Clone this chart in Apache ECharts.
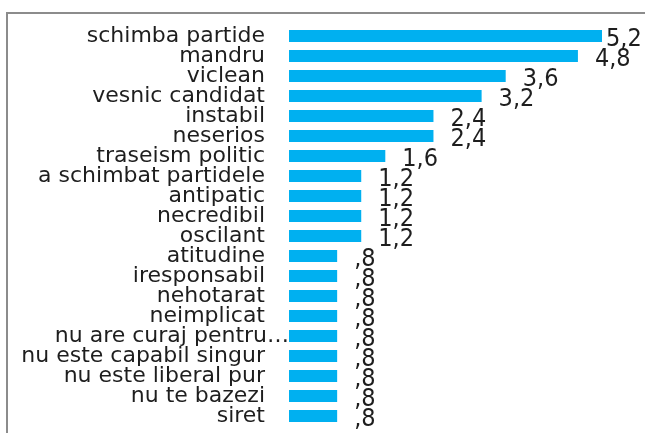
<!DOCTYPE html>
<html>
<head>
<meta charset="utf-8">
<script src="https://cdn.jsdelivr.net/npm/echarts@6/dist/echarts.min.js"></script>
<style>
html, body { margin: 0; padding: 0; background: #fff; }
#main { width: 645px; height: 433px; }
</style>
</head>
<body>
<div id="main"></div>
<script>
// categorii si procente
var categories = ['schimba partide', 'mandru', 'viclean', 'vesnic candidat', 'instabil', 'neserios',
    'traseism politic', 'a schimbat partidele', 'antipatic', 'necredibil', 'oscilant', 'atitudine',
    'iresponsabil', 'nehotarat', 'neimplicat', 'nu are curaj pentru\u2026', 'nu este capabil singur',
    'nu este liberal pur', 'nu te bazezi', 'siret'];
var values = [5.2, 4.8, 3.6, 3.2, 2.4, 2.4, 1.6, 1.2, 1.2, 1.2, 1.2, 0.8, 0.8, 0.8, 0.8, 0.8, 0.8, 0.8, 0.8, 0.8];

var myChart = echarts.init(document.getElementById('main'));

function fmt(v) {
    var s = v.toFixed(1).replace('.', ',');
    if (s.charAt(0) === '0') s = s.substring(1);
    return s;
}

// prima eticheta e mai aproape de bara (nu incape)
var seriesData = values.map(function (v, i) {
    if (i === 0) return { value: v, label: { distance: 4 } };
    return v;
});

// eticheta trunchiata ajunge pana la bara
var catData = categories.map(function (c) {
    if (c.indexOf('\u2026') >= 0) return { value: c, textStyle: { padding: [0, -24, 0, 0] } };
    return c;
});

var option = {
    animation: false,
    textStyle: { fontFamily: 'DejaVu Sans' },
    graphic: [{
        type: 'rect',
        shape: { x: 7, y: 13, width: 700, height: 500 },
        style: { fill: 'none', stroke: '#8c8c8c', lineWidth: 2 }
    }],
    grid: { left: 289, top: 26, width: 313, height: 400 },
    xAxis: {
        type: 'value',
        min: 0,
        max: 5.2,
        show: false
    },
    yAxis: {
        type: 'category',
        inverse: true,
        data: catData,
        axisLine: { show: false },
        axisTick: { show: false },
        axisLabel: {
            interval: 0,
            margin: 24,
            fontSize: 22,
            color: '#1e1e1e',
            fontFamily: 'DejaVu Sans'
        }
    },
    series: [{
        type: 'bar',
        data: seriesData,
        barCategoryGap: '40%',
        itemStyle: { color: '#00B0F0' },
        label: {
            show: true,
            position: 'right',
            distance: 17,
            offset: [0, 3],
            fontSize: 25,
            color: '#1e1e1e',
            fontFamily: 'DejaVu Sans Condensed',
            formatter: function (p) { return fmt(p.value); }
        }
    }]
};

myChart.setOption(option);
</script>
</body>
</html>
